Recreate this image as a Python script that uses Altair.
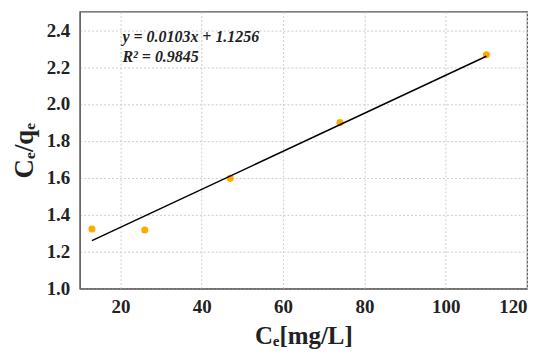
import altair as alt
import pandas as pd

ce = [13, 26, 47, 74, 110]
ce_qe = [1.323, 1.317, 1.597, 1.899, 2.266]

line_x = [13, 110]
line_y = [1.2595, 2.2586]

ann_x = [20.5, 20.5]
ann_y = [2.335, 2.228]
ann_text = ["y = 0.0103x + 1.1256", "R² = 0.9845"]

x_ticks = [20, 40, 60, 80, 100, 120]
y_ticks = [1.0, 1.2, 1.4, 1.6, 1.8, 2.0, 2.2, 2.4]

pts = pd.DataFrame({"x": ce, "y": ce_qe})
ln = pd.DataFrame({"x": line_x, "y": line_y})
ann = pd.DataFrame({"x": ann_x, "y": ann_y, "t": ann_text})

FONT = "Liberation Serif"

xs = alt.Scale(domain=[10, 120], nice=False, zero=False)
ys = alt.Scale(domain=[1.0, 2.5], nice=False, zero=False)

xax = alt.Axis(values=x_ticks, title="Cₑ[mg/L]", format="d", labelFontSize=19,
               labelFont=FONT, labelFontWeight="bold", labelColor="#222",
               labelOverlap=False,
               titleFont=FONT, titleFontSize=25, titleFontWeight="bold", titleColor="#222",
               titlePadding=7, labelPadding=9, ticks=False, domainColor="#555",
               gridDash=[2, 2], gridColor="#cccccc")
yax = alt.Axis(values=y_ticks, title="Cₑ/qₑ", format=".1f", labelFontSize=19,
               labelFont=FONT, labelFontWeight="bold", labelColor="#222",
               labelOverlap=False,
               titleFont=FONT, titleFontSize=27, titleFontWeight="bold", titleColor="#222",
               titlePadding=8, labelPadding=10, ticks=False, domainColor="#555",
               gridDash=[2, 2], gridColor="#cccccc")

X = alt.X("x:Q", scale=xs, axis=xax)
Y = alt.Y("y:Q", scale=ys, axis=yax)

points = alt.Chart(pts).mark_circle(size=50, color="#FFA800", opacity=1).encode(x=X, y=Y)
line = alt.Chart(ln).mark_line(color="black", strokeWidth=1.5).encode(x=X, y=Y)
text = alt.Chart(ann).mark_text(align="left", baseline="alphabetic", font=FONT,
                                fontSize=16, fontStyle="italic", fontWeight="bold",
                                color="#222").encode(x=X, y=Y, text="t:N")

chart = alt.layer(points, line, text).properties(
    width=449, height=278,
    autosize=alt.AutoSizeParams(type="none"),
    padding={"left": 72, "top": 3, "right": 15, "bottom": 66},
).configure_view(stroke="#555", strokeWidth=1.2)

chart.save("out.html", embed_options={"renderer": "svg", "actions": False})
